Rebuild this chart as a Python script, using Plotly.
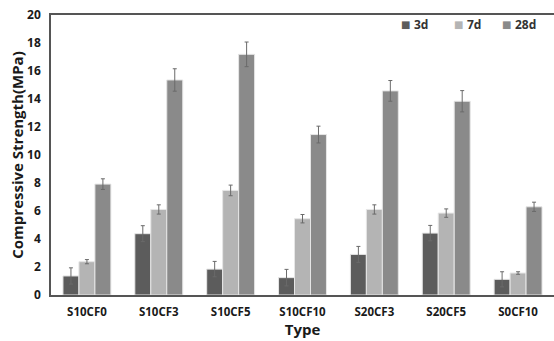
import plotly.graph_objects as go

categories = ["S10CF0", "S10CF3", "S10CF5", "S10CF10", "S20CF3", "S20CF5", "S0CF10"]
series_names = ["3d", "7d", "28d"]
vals_3d = [1.36, 4.38, 1.85, 1.24, 2.90, 4.42, 1.12]
err_3d = [0.58, 0.57, 0.55, 0.59, 0.57, 0.55, 0.54]
vals_7d = [2.38, 6.11, 7.47, 5.45, 6.11, 5.85, 1.57]
err_7d = [0.15, 0.33, 0.38, 0.30, 0.33, 0.30, 0.09]
vals_28d = [7.92, 15.36, 17.19, 11.46, 14.58, 13.84, 6.30]
err_28d = [0.38, 0.80, 0.88, 0.60, 0.74, 0.76, 0.33]
y_ticks = [0, 2, 4, 6, 8, 10, 12, 14, 16, 18, 20]

colors = ["#5c5c5c", "#b4b4b4", "#8a8a8a"]
font_family = "Open Sans, Noto Sans, DejaVu Sans, sans-serif"

W, H = 554, 341
ML, MR, MT, MB = 51, 0, 15, 46
plot_w = W - ML - MR
plot_h = H - MT - MB

fig = go.Figure()
for name, vals, errs, col in zip(series_names, [vals_3d, vals_7d, vals_28d],
                                 [err_3d, err_7d, err_28d], colors):
    fig.add_trace(go.Bar(
        x=categories, y=vals, name=name,
        marker=dict(color=col, line=dict(color="#e6e6e6", width=1)),
        error_y=dict(type="data", array=errs, visible=True,
                     color="#6a6a6a", thickness=1, width=2),
        showlegend=False,
    ))

# custom compact legend (square marker + label), top-right inside the plot
legend_px = [412, 465, 513]
legend_y = 1 - (25 - MT) / plot_h
annotations = []
for name, col, px in zip(series_names, colors, legend_px):
    xp = (px - ML) / plot_w
    annotations.append(dict(
        x=xp, y=legend_y, xref="paper", yref="paper",
        xanchor="right", yanchor="middle", showarrow=False,
        text="■", font=dict(size=10, color=col, family="DejaVu Sans"),
    ))
    annotations.append(dict(
        x=xp, y=legend_y, xref="paper", yref="paper",
        xanchor="left", yanchor="middle", showarrow=False,
        text=name, font=dict(size=12, color="#333333", family=font_family, weight="bold"),
    ))

fig.update_layout(
    width=W, height=H,
    margin=dict(l=ML, r=MR, t=MT, b=MB),
    paper_bgcolor="white", plot_bgcolor="white",
    barmode="group", bargap=0.333, bargroupgap=0,
    font=dict(family=font_family, color="#1a1a1a"),
    showlegend=False,
    annotations=annotations,
    xaxis=dict(
        range=[-0.5, 6.5],
        showline=True, linecolor="#555555", linewidth=1.5, mirror=True,
        ticks="", showgrid=False, ticklabelstandoff=5,
        tickfont=dict(size=11.5, weight="bold", family=font_family, color="#1a1a1a"),
        title=dict(text="Type", font=dict(size=15, weight="bold", family=font_family, color="#1a1a1a"),
                   standoff=2),
    ),
    yaxis=dict(
        range=[0, 20], tickvals=y_ticks,
        showline=True, linecolor="#555555", linewidth=1.5,
        ticks="", showgrid=False, zeroline=False, ticklabelstandoff=6,
        tickfont=dict(size=12, weight="bold", family=font_family, color="#1a1a1a"),
        title=dict(text="Compressive Strength(MPa)",
                   font=dict(size=15, weight="bold", family=font_family, color="#1a1a1a"),
                   standoff=0),
    ),
)

fig.write_html("out.html")
